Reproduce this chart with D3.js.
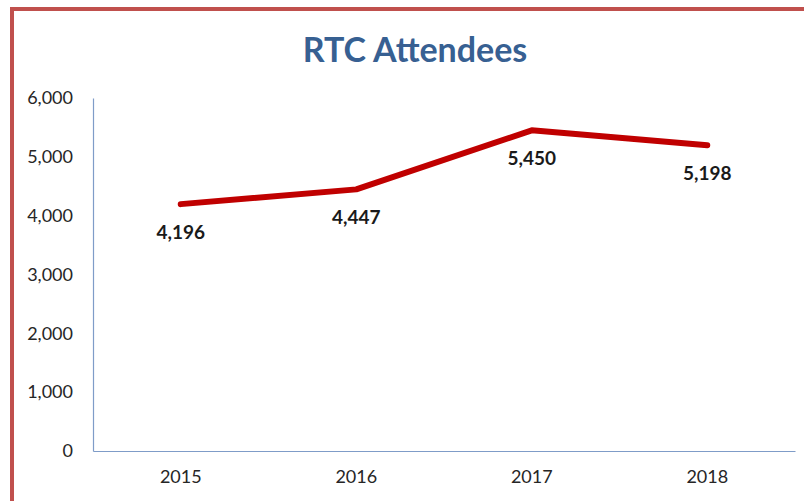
<!DOCTYPE html>
<html>
<head>
<meta charset="utf-8">
<script src="https://cdn.jsdelivr.net/npm/d3@7"></script>
<style>
  body { margin: 0; background: #fff; }
  svg { display: block; }
</style>
</head>
<body>
<script>
const years = ["2015", "2016", "2017", "2018"];
const attendees = [4196, 4447, 5450, 5198];
const yTicks = [0, 1000, 2000, 3000, 4000, 5000, 6000];

const width = 804;
const height = 501;
const margin = { left: 93, right: 9, top: 98, bottom: 50 };

const svg = d3
  .select("body")
  .append("svg")
  .attr("width", width)
  .attr("height", height);

// red frame, cut off on the right and bottom
svg
  .append("rect")
  .attr("x", 12)
  .attr("y", 9)
  .attr("width", width + 20)
  .attr("height", height + 20)
  .attr("fill", "#fff")
  .attr("stroke", "#C0504D")
  .attr("stroke-width", 4);

const x = d3
  .scaleBand()
  .domain(years)
  .range([margin.left, width - margin.right]);

const y = d3
  .scaleLinear()
  .domain([0, 6000])
  .range([height - margin.bottom, margin.top]);

// title
svg
  .append("text")
  .attr("x", 415)
  .attr("y", 62)
  .attr("text-anchor", "middle")
  .attr("font-family", "Lato, 'Open Sans', sans-serif")
  .attr("font-weight", "bold")
  .attr("font-size", "34px")
  .attr("fill", "#376092")
  .text("RTC Attendees");

// y axis
const yAxis = svg
  .append("g")
  .attr("transform", `translate(${margin.left},0)`)
  .call(
    d3.axisLeft(y).tickValues(yTicks).tickSize(0).tickPadding(20).tickFormat(d3.format(","))
  );
yAxis.select(".domain").attr("stroke", "#7F9CC8").attr("stroke-width", 1.2);
yAxis
  .selectAll("text")
  .attr("font-family", "Lato, 'Open Sans', sans-serif")
  .attr("font-size", "18px")
  .attr("fill", "#262626");

// x axis
const xAxis = svg
  .append("g")
  .attr("transform", `translate(0,${height - margin.bottom})`)
  .call(d3.axisBottom(x).tickSize(0).tickPadding(19));
xAxis.select(".domain").attr("stroke", "#7F9CC8").attr("stroke-width", 1.2);
xAxis
  .selectAll("text")
  .attr("font-family", "Lato, 'Open Sans', sans-serif")
  .attr("font-size", "18px")
  .attr("fill", "#262626");

const data = years.map((yr, i) => ({ year: yr, value: attendees[i] }));

const line = d3
  .line()
  .x((d) => x(d.year) + x.bandwidth() / 2)
  .y((d) => y(d.value));

svg
  .append("path")
  .datum(data)
  .attr("fill", "none")
  .attr("stroke", "#C00000")
  .attr("stroke-width", 6)
  .attr("stroke-linecap", "round")
  .attr("stroke-linejoin", "round")
  .attr("d", line);

// data labels under each point
svg
  .append("g")
  .selectAll("text")
  .data(data)
  .join("text")
  .attr("x", (d) => x(d.year) + x.bandwidth() / 2)
  .attr("y", (d) => y(d.value) + 35)
  .attr("text-anchor", "middle")
  .attr("font-family", "Lato, 'Open Sans', sans-serif")
  .attr("font-weight", "bold")
  .attr("font-size", "19px")
  .attr("fill", "#1a1a1a")
  .text((d) => d3.format(",")(d.value));
</script>
</body>
</html>
